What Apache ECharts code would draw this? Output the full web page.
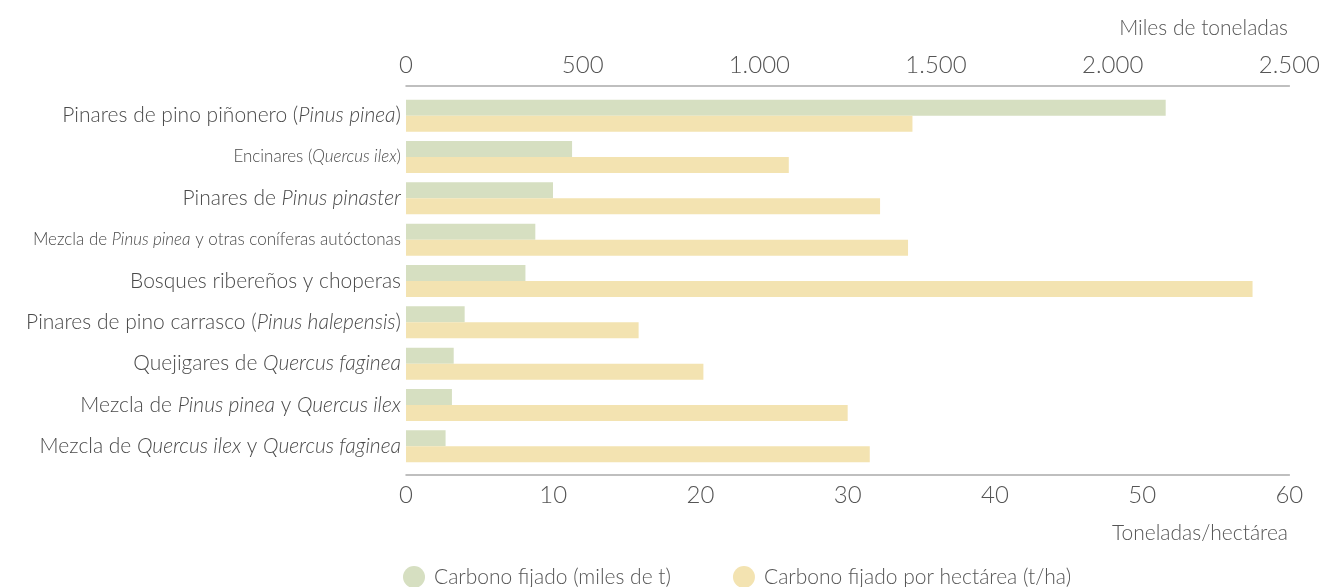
<!DOCTYPE html>
<html>
<head>
<meta charset="utf-8">
<script src="https://cdn.jsdelivr.net/npm/echarts@6/dist/echarts.min.js"></script>
<style>
html,body{margin:0;padding:0;background:#fff;}
#chart{width:1323px;height:587px;}
</style>
</head>
<body>
<div id="chart"></div>
<script>
// Categories (text between * * is italic)
const categories = [
  "Pinares de pino piñonero (*Pinus pinea*)",
  "Encinares (*Quercus ilex*)",
  "Pinares de *Pinus pinaster*",
  "Mezcla de *Pinus pinea* y otras coníferas autóctonas",
  "Bosques ribereños y choperas",
  "Pinares de pino carrasco (*Pinus halepensis*)",
  "Quejigares de *Quercus faginea*",
  "Mezcla de *Pinus pinea* y *Quercus ilex*",
  "Mezcla de *Quercus ilex* y *Quercus faginea*"
];
// Carbono fijado (miles de t)
const carbonoMiles = [2150, 470, 416, 366, 338, 166, 135, 130, 112];
// Carbono fijado por hectárea (t/ha)
const carbonoHa = [34.4, 26.0, 32.2, 34.1, 57.5, 15.8, 20.2, 30.0, 31.5];

const seriesNames = ["Carbono fijado (miles de t)", "Carbono fijado por hectárea (t/ha)"];
const topAxisName = "Miles de toneladas";
const bottomAxisName = "Toneladas/hectárea";

const GREEN = "#d6dfc1";
const YELLOW = "#f3e3b1";
const TEXT = "#555555";
const LABEL = "#4a4a4a";
const FONT = "Lato";
const condensedLabels = [1, 3]; // labels set in a narrower face in the original

function richLabel(s, idx) {
  const c = condensedLabels.indexOf(idx) >= 0;
  return s.split("*").map((p, i) => p === "" ? "" : ((i % 2 ? (c ? "{ci|" : "{i|") : (c ? "{cn|" : "{n|")) + p + "}")).join("");
}
function thousands(v) {
  return String(v).replace(/\B(?=(\d{3})+(?!\d))/g, ".");
}

const chart = echarts.init(document.getElementById("chart"));
chart.setOption({
  animation: false,
  textStyle: { fontFamily: FONT, color: TEXT },
  title: [
    { text: topAxisName, right: 35, top: 18, padding: 0, textStyle: { fontFamily: FONT, fontSize: 21, fontWeight: 300, color: TEXT } },
    { text: bottomAxisName, right: 35, top: 523, padding: 0, textStyle: { fontFamily: FONT, fontSize: 21, fontWeight: 300, color: TEXT } }
  ],
  legend: {
    left: 403, top: 566, padding: 0,
    icon: "circle", itemWidth: 22, itemHeight: 22, itemGap: 62,
    textStyle: { fontFamily: FONT, fontSize: 21, fontWeight: 300, color: TEXT, padding: [0, 0, 0, 4] },
    data: seriesNames
  },
  grid: { left: 406, right: 27, top: 95, bottom: 120, containLabel: false },
  xAxis: [
    {
      type: "value", position: "top", min: 0, max: 2500, interval: 500, offset: 9,
      axisLine: { show: true, lineStyle: { color: "#aaaaaa", width: 1.5 } },
      axisTick: { show: false }, splitLine: { show: false },
      axisLabel: { fontFamily: FONT, fontSize: 24, fontWeight: 300, color: TEXT, margin: 9, formatter: v => thousands(v) }
    },
    {
      type: "value", position: "bottom", min: 0, max: 60, interval: 10, offset: 8,
      axisLine: { show: true, lineStyle: { color: "#aaaaaa", width: 1.5 } },
      axisTick: { show: false }, splitLine: { show: false },
      axisLabel: { fontFamily: FONT, fontSize: 24, fontWeight: 300, color: TEXT, margin: 8 }
    }
  ],
  yAxis: {
    type: "category", inverse: true, data: categories,
    axisLine: { show: false }, axisTick: { show: false },
    axisLabel: {
      margin: 5,
      formatter: (v, idx) => richLabel(v, idx),
      rich: {
        n: { fontFamily: FONT, fontSize: 21, fontWeight: 300, color: LABEL },
        i: { fontFamily: FONT, fontSize: 21, fontWeight: 300, color: LABEL, fontStyle: "italic" },
        cn: { fontFamily: FONT, fontSize: 17, fontWeight: 300, color: LABEL },
        ci: { fontFamily: FONT, fontSize: 17, fontWeight: 300, color: LABEL, fontStyle: "italic" }
      }
    }
  },
  series: [
    { name: seriesNames[0], type: "bar", xAxisIndex: 0, data: carbonoMiles, barWidth: 16, barGap: "0%", itemStyle: { color: GREEN } },
    { name: seriesNames[1], type: "bar", xAxisIndex: 1, data: carbonoHa, barWidth: 16, barGap: "0%", itemStyle: { color: YELLOW } }
  ]
});
</script>
</body>
</html>
